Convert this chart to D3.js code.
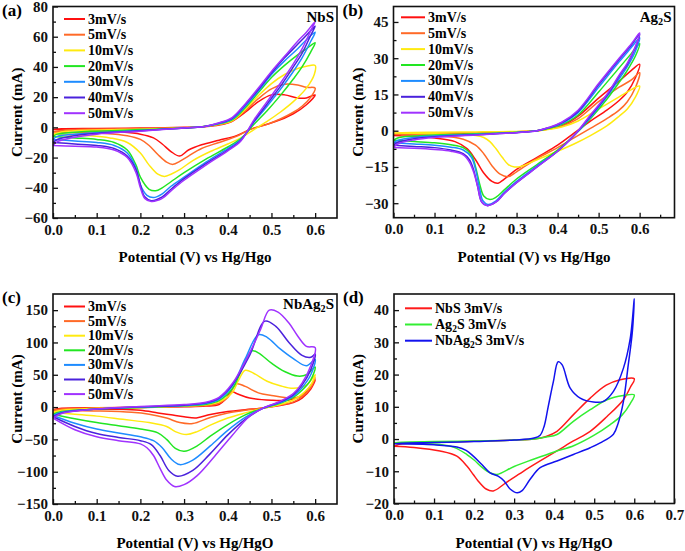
<!DOCTYPE html>
<html>
<head>
<meta charset="utf-8">
<script src="https://cdn.jsdelivr.net/npm/d3@7"></script>
<style>
  body { margin: 0; background: #fff; }
  svg { display: block; font-family: "Liberation Serif", "Times New Roman", serif; font-weight: bold; }
</style>
</head>
<body>
<svg width="685" height="551"></svg>
<script>
// scan rates used in panels a, b and c
var rates = ["3mV/s", "5mV/s", "10mV/s", "20mV/s", "30mV/s", "40mV/s", "50mV/s"];
var rateColors = ["#ff1010", "#ff6a28", "#ffea10", "#22e622", "#1e8cff", "#4a22dc", "#a032ff"];

// (a) NbS, each loop as [potential V, current mA], forward sweep then reverse
var nbs3 = [[0,-1.5],[0.02,-1],[0.1,-0.8],[0.2,-0.5],[0.3,0],[0.35,0.5],[0.38,1.5],[0.41,4],[0.44,10],[0.47,17],[0.5,21.5],[0.53,21.5],[0.56,19.5],[0.58,19.5],[0.6,21.5],
  [0.58,15],[0.55,9],[0.52,5],[0.49,2],[0.45,-1.5],[0.42,-5.5],[0.38,-8.5],[0.34,-11.5],[0.31,-15],[0.29,-19],[0.27,-16],[0.25,-11],[0.23,-7],[0.2,-4.5],[0.15,-3],[0.1,-2.3],[0.05,-2],[0,-1.5]];
var nbs5 = [[0,-3],[0.02,-2],[0.1,-1.2],[0.2,-0.8],[0.3,-0.2],[0.35,0.6],[0.38,1.8],[0.41,4],[0.44,11],[0.47,19],[0.5,25.5],[0.53,28.5],[0.56,28],[0.58,26.5],[0.6,26],
  [0.59,20],[0.57,14],[0.55,10],[0.52,5.5],[0.49,2],[0.45,-1.5],[0.42,-6],[0.38,-10],[0.34,-14],[0.31,-19],[0.29,-22.5],[0.275,-24.5],[0.26,-23],[0.24,-18],[0.22,-12],[0.2,-8],[0.17,-5.5],[0.12,-4],[0.05,-3.5],[0,-3]];
var nbs10 = [[0,-4.5],[0.02,-3],[0.1,-1.8],[0.2,-1.2],[0.3,-0.3],[0.35,0.7],[0.38,2],[0.41,4.5],[0.44,12],[0.47,21],[0.5,29],[0.53,35],[0.56,39],[0.58,40.5],[0.6,41],
  [0.598,35],[0.58,26],[0.55,17],[0.52,10],[0.49,4],[0.46,-1.5],[0.43,-7],[0.4,-11],[0.36,-16],[0.32,-22],[0.29,-28],[0.27,-31],[0.255,-32.5],[0.24,-31],[0.22,-25],[0.2,-17],[0.17,-10],[0.13,-7],[0.08,-5.5],[0,-4.5]];
var nbs20 = [[0,-6],[0.01,-4.5],[0.05,-3.2],[0.1,-2.5],[0.2,-1.5],[0.3,-0.4],[0.35,0.8],[0.38,2.3],[0.41,5],[0.44,13],[0.47,23],[0.5,33],[0.53,41],[0.56,48],[0.58,52],[0.6,56],
  [0.59,50],[0.57,40],[0.55,32],[0.52,21],[0.49,11],[0.46,2],[0.43,-7.5],[0.4,-13],[0.35,-21],[0.3,-30],[0.27,-36],[0.25,-40],[0.235,-42],[0.22,-41],[0.2,-33],[0.19,-25],[0.17,-15],[0.14,-10],[0.1,-8],[0.05,-7],[0,-6]];
var nbs30 = [[0,-8],[0.01,-6],[0.05,-4.5],[0.1,-3.5],[0.2,-2],[0.3,-0.5],[0.35,0.8],[0.38,2.5],[0.41,5.5],[0.44,14],[0.47,24],[0.5,35],[0.53,44],[0.56,52],[0.58,58],[0.6,63],
  [0.59,57],[0.57,46],[0.55,37],[0.52,25],[0.49,14],[0.46,3.5],[0.43,-8],[0.4,-14],[0.35,-23],[0.3,-33],[0.27,-39],[0.25,-44],[0.23,-46.5],[0.215,-45],[0.2,-38],[0.19,-27],[0.17,-17],[0.14,-12],[0.1,-10],[0.05,-9],[0,-8]];
var nbs40 = [[0,-10],[0.01,-8],[0.05,-5.5],[0.1,-4],[0.2,-2.3],[0.3,-0.5],[0.35,0.8],[0.38,2.8],[0.41,6],[0.44,15],[0.47,25],[0.5,36],[0.53,46],[0.56,55],[0.58,61],[0.6,67],
  [0.59,61],[0.57,49],[0.55,40],[0.52,27],[0.49,15.5],[0.46,4],[0.43,-8.5],[0.4,-15],[0.35,-24],[0.3,-34],[0.27,-41],[0.25,-46],[0.225,-48.5],[0.21,-46],[0.2,-38],[0.19,-28],[0.17,-19],[0.14,-14],[0.1,-12],[0.05,-11],[0,-10]];
var nbs50 = [[0,-12],[0.01,-9.5],[0.05,-6.5],[0.1,-4.5],[0.2,-2.5],[0.3,-0.5],[0.35,0.8],[0.38,3],[0.41,6.5],[0.44,15.5],[0.47,26],[0.5,37],[0.53,47],[0.56,57],[0.58,63],[0.6,70],
  [0.59,64],[0.57,52],[0.55,42],[0.52,29],[0.49,17],[0.46,5],[0.43,-9],[0.4,-15.5],[0.35,-25],[0.3,-35],[0.27,-42],[0.25,-47],[0.225,-49],[0.21,-47],[0.2,-40],[0.19,-30],[0.17,-20],[0.14,-15],[0.1,-13],[0.05,-12.5],[0,-12]];

// (b) Ag2S
var ag3 = [[0,-2],[0.02,-1.5],[0.1,-1.2],[0.2,-1],[0.3,-0.5],[0.35,0],[0.38,0.8],[0.41,2],[0.45,6],[0.5,13.5],[0.55,20.5],[0.58,25],[0.6,27.5],
  [0.59,22],[0.57,16],[0.55,12.5],[0.52,8.5],[0.48,4],[0.44,-1],[0.4,-6],[0.35,-11],[0.3,-16],[0.27,-20],[0.255,-21.7],[0.24,-21],[0.22,-17.5],[0.2,-12],[0.18,-7.5],[0.15,-4.5],[0.1,-3],[0.05,-2.3],[0,-2]];
var ag5 = [[0,-1.5],[0.02,-1.2],[0.1,-1],[0.2,-0.8],[0.3,-0.4],[0.35,0],[0.38,0.8],[0.41,1.8],[0.45,5],[0.5,12],[0.55,18],[0.58,21],[0.6,24],
  [0.59,18],[0.57,12],[0.55,8.5],[0.52,5],[0.48,1],[0.44,-3],[0.4,-7],[0.35,-11.5],[0.3,-17],[0.28,-19],[0.26,-18],[0.24,-14.5],[0.22,-9.5],[0.2,-6],[0.17,-3.5],[0.1,-2],[0.05,-1.7],[0,-1.5]];
var ag10 = [[0,-1],[0.02,-0.8],[0.1,-0.6],[0.2,-0.5],[0.3,-0.3],[0.35,0],[0.38,0.6],[0.41,1.5],[0.45,4],[0.5,9],[0.55,14],[0.58,17],[0.6,18.5],
  [0.59,14],[0.57,9],[0.55,6],[0.52,2],[0.48,-2],[0.44,-5.5],[0.4,-8.5],[0.35,-12],[0.31,-14.8],[0.295,-15],[0.28,-14],[0.265,-11],[0.25,-7.5],[0.235,-4.5],[0.22,-2.8],[0.2,-2],[0.1,-1.3],[0,-1]];
var ag20 = [[0,-4],[0.01,-3],[0.05,-2.2],[0.1,-1.8],[0.2,-1.3],[0.3,-0.6],[0.35,0],[0.38,1],[0.41,2.5],[0.45,6.5],[0.5,16],[0.55,26],[0.58,32],[0.6,36],
  [0.59,31],[0.57,25],[0.55,20],[0.52,13],[0.48,5],[0.44,-2],[0.4,-8],[0.35,-14],[0.3,-20],[0.27,-24.5],[0.25,-27.5],[0.235,-28.5],[0.22,-27],[0.21,-22],[0.2,-15],[0.19,-10],[0.17,-7],[0.14,-5.8],[0.1,-5],[0.05,-4.5],[0,-4]];
var ag30 = [[0,-5],[0.01,-4],[0.05,-2.8],[0.1,-2.2],[0.2,-1.5],[0.3,-0.7],[0.35,0],[0.38,1.2],[0.41,3],[0.45,7.5],[0.5,18],[0.55,28.5],[0.58,34.5],[0.6,38.5],
  [0.59,33],[0.57,26.5],[0.55,21.5],[0.52,14],[0.48,5.5],[0.44,-2],[0.4,-8.5],[0.35,-14.5],[0.3,-21],[0.27,-25.5],[0.25,-29],[0.23,-30.5],[0.218,-29],[0.21,-24],[0.2,-16],[0.19,-11],[0.17,-8],[0.14,-6.8],[0.1,-6],[0.05,-5.5],[0,-5]];
var ag40 = [[0,-6],[0.01,-4.8],[0.05,-3.3],[0.1,-2.5],[0.2,-1.7],[0.3,-0.8],[0.35,0],[0.38,1.3],[0.41,3.3],[0.45,8],[0.5,19],[0.55,29.5],[0.58,35.5],[0.6,40],
  [0.59,34.5],[0.57,27.5],[0.55,22.5],[0.52,14.5],[0.48,6],[0.44,-2],[0.4,-8.5],[0.35,-15],[0.3,-21.5],[0.27,-26],[0.25,-29.5],[0.228,-31],[0.215,-29.5],[0.205,-23],[0.195,-16],[0.185,-12],[0.17,-9.5],[0.14,-8],[0.1,-7],[0.05,-6.5],[0,-6]];
var ag50 = [[0,-7],[0.01,-5.5],[0.05,-3.8],[0.1,-2.8],[0.2,-1.8],[0.3,-0.8],[0.35,0],[0.38,1.4],[0.41,3.5],[0.45,8.5],[0.5,19.5],[0.55,30],[0.58,36],[0.6,40.5],
  [0.59,35],[0.57,28],[0.55,23],[0.52,15],[0.48,6.5],[0.44,-2],[0.4,-8.5],[0.35,-15],[0.3,-21.5],[0.27,-26],[0.25,-29.5],[0.228,-31],[0.215,-29.5],[0.205,-23],[0.195,-17],[0.185,-13],[0.17,-10],[0.14,-8.5],[0.1,-7.8],[0.05,-7.3],[0,-7]];

// (c) NbAg2S
var nbag3 = [[0,-4],[0.02,-2],[0.1,-1],[0.2,-0.5],[0.3,0.5],[0.35,1.5],[0.38,4],[0.395,12],[0.408,24],[0.42,21],[0.45,14],[0.5,10.5],[0.54,11],[0.57,18],[0.6,42],
  [0.59,28],[0.57,14],[0.55,7],[0.52,2.5],[0.48,-1.5],[0.44,-4],[0.4,-7],[0.36,-11.5],[0.328,-16.8],[0.3,-15],[0.27,-12],[0.24,-9],[0.2,-5],[0.15,-3.5],[0.1,-3.5],[0.05,-3.8],[0,-4]];
var nbag5 = [[0,-5],[0.02,-3],[0.1,-1.5],[0.2,-0.5],[0.3,1],[0.35,2.5],[0.38,6],[0.4,15],[0.42,36],[0.44,32],[0.47,22],[0.5,18],[0.55,14],[0.58,22],[0.6,45],
  [0.59,30],[0.57,16],[0.55,8],[0.52,3],[0.48,-1.5],[0.44,-5],[0.4,-9],[0.36,-16],[0.32,-25.5],[0.29,-24],[0.26,-17],[0.22,-11],[0.18,-8],[0.1,-6],[0.05,-5.5],[0,-5]];
var nbag10 = [[0,-8],[0.02,-5],[0.1,-2],[0.2,-0.5],[0.3,1.5],[0.35,3.5],[0.38,8],[0.41,22],[0.425,42],[0.44,57],[0.46,52],[0.49,40],[0.52,33],[0.55,29],[0.58,34],[0.6,50],
  [0.59,34],[0.57,20],[0.55,11],[0.52,4],[0.48,-2],[0.44,-9],[0.4,-17],[0.36,-28],[0.33,-38],[0.305,-42.5],[0.28,-38],[0.26,-30],[0.22,-24],[0.16,-19],[0.1,-14],[0.05,-11],[0,-8]];
var nbag20 = [[0,-11],[0.02,-7],[0.1,-3],[0.2,-0.5],[0.3,2],[0.35,4.5],[0.38,10],[0.41,28],[0.43,55],[0.455,87],[0.47,84],[0.5,68],[0.53,55],[0.56,48],[0.58,50],[0.6,62],
  [0.59,42],[0.57,26],[0.55,15],[0.52,6],[0.48,-2],[0.44,-12],[0.4,-27],[0.36,-45],[0.33,-60],[0.3,-68.5],[0.28,-64],[0.26,-50],[0.24,-40],[0.2,-34],[0.15,-29],[0.1,-24],[0.05,-18],[0,-11]];
var nbag30 = [[0,-13],[0.02,-8],[0.1,-3],[0.2,0],[0.3,2.5],[0.35,5.5],[0.38,12],[0.41,32],[0.44,75],[0.47,112],[0.49,108],[0.52,90],[0.55,75],[0.58,64],[0.6,74],
  [0.59,50],[0.57,30],[0.55,17],[0.52,7],[0.48,-2],[0.44,-16],[0.4,-36],[0.36,-60],[0.32,-82],[0.29,-89],[0.27,-80],[0.25,-63],[0.23,-52],[0.2,-46],[0.15,-40],[0.1,-34],[0.05,-25],[0,-13]];
var nbag40 = [[0,-15],[0.02,-9],[0.1,-3],[0.2,0.5],[0.3,3],[0.35,6.5],[0.38,14],[0.41,34],[0.45,80],[0.485,133],[0.51,125],[0.54,100],[0.57,80],[0.59,77],[0.6,82],
  [0.59,58],[0.57,34],[0.55,19],[0.52,8],[0.48,-2],[0.44,-19],[0.4,-43],[0.36,-72],[0.32,-98],[0.285,-107],[0.265,-98],[0.245,-75],[0.225,-58],[0.2,-52],[0.15,-47],[0.1,-41],[0.05,-30],[0,-15]];
var nbag50 = [[0,-17],[0.02,-10],[0.1,-3],[0.2,1],[0.3,4],[0.35,7.5],[0.38,15],[0.41,36],[0.45,84],[0.475,120],[0.495,150],[0.515,147],[0.54,130],[0.56,110],[0.58,94],[0.6,92],
  [0.59,64],[0.57,37],[0.55,21],[0.52,9],[0.48,-2],[0.45,-14],[0.41,-44],[0.37,-76],[0.33,-106],[0.3,-120],[0.278,-123],[0.26,-113],[0.245,-95],[0.23,-75],[0.215,-63],[0.2,-57],[0.15,-52],[0.1,-46],[0.05,-35],[0,-17]];

// (d) comparison at 3 mV/s
var compNames = ["NbS 3mV/s", "Ag2S 3mV/s", "NbAg2S 3mV/s"];
var compColors = ["#ff1a1a", "#33ee33", "#1212ee"];
var compNbs = [[0,-2.2],[0.02,-1.5],[0.1,-1],[0.2,-0.7],[0.3,-0.3],[0.35,0],[0.38,0.8],[0.407,2.4],[0.45,7.8],[0.49,12.7],[0.53,16.7],[0.565,18.4],[0.6,18.7],
  [0.59,16],[0.573,12.2],[0.532,7],[0.49,2.4],[0.448,-0.6],[0.407,-3.7],[0.365,-6.8],[0.323,-10],[0.28,-13.5],[0.248,-16.1],[0.23,-15.5],[0.21,-13],[0.198,-11],[0.182,-8.4],[0.157,-5.3],[0.115,-3.7],[0.05,-2.6],[0,-2.2]];
var compAg = [[0,-1.2],[0.02,-1],[0.1,-0.8],[0.2,-0.6],[0.3,-0.3],[0.35,0],[0.38,0.6],[0.407,1.4],[0.448,5.5],[0.49,9.1],[0.532,12.2],[0.573,13.5],[0.6,13.7],
  [0.59,11],[0.57,7.5],[0.54,4.5],[0.5,1.2],[0.45,-2],[0.4,-4],[0.35,-6.2],[0.3,-8.5],[0.257,-11],[0.24,-10.5],[0.22,-8.8],[0.2,-6.5],[0.182,-4.8],[0.15,-2.6],[0.115,-1.7],[0.05,-1.3],[0,-1.2]];
var compNbag = [[0,-1.5],[0.02,-1.3],[0.1,-1.1],[0.2,-0.8],[0.3,-0.3],[0.35,0.3],[0.365,1.2],[0.375,4],[0.385,10],[0.398,17.8],[0.41,24],[0.42,23],[0.44,15.8],[0.465,12.7],[0.498,11.5],[0.523,11.7],[0.548,14.8],[0.573,22],[0.59,31.2],[0.6,43.5],
  [0.595,33],[0.585,23],[0.573,11.7],[0.56,5],[0.548,1.5],[0.515,-1.2],[0.49,-2.7],[0.448,-4.8],[0.407,-6.8],[0.365,-8.9],[0.34,-12.5],[0.32,-16],[0.308,-16.7],[0.29,-15.5],[0.275,-13],[0.26,-11.5],[0.24,-10.5],[0.22,-8],[0.198,-5.3],[0.18,-3.5],[0.157,-2.5],[0.1,-1.8],[0,-1.5]];

// tick values
var xTicks6 = [0, 0.1, 0.2, 0.3, 0.4, 0.5, 0.6];
var xTicks7 = [0, 0.1, 0.2, 0.3, 0.4, 0.5, 0.6, 0.7];
var yTicksA = [-60, -40, -20, 0, 20, 40, 60, 80];
var yTicksB = [-30, -15, 0, 15, 30, 45];
var yTicksC = [-150, -100, -50, 0, 50, 100, 150];
var yTicksD = [-20, -10, 0, 10, 20, 30, 40];

var svg = d3.select("svg");

// writes a label, putting the 2 of "Ag2S" as a subscript
function subText(sel, str, size) {
  var m = str.match(/^(.*?Ag)2(.*)$/);
  if (!m) { sel.text(str); return; }
  sel.append("tspan").text(m[1]);
  sel.append("tspan").attr("font-size", size * 0.68).attr("dy", 3).text("2");
  sel.append("tspan").attr("dy", -3).text(m[2]);
}

function drawPanel(p) {
  var x = d3.scaleLinear().domain(p.xDomain).range([p.left, p.right]);
  var y = d3.scaleLinear().domain(p.yDomain).range([p.bottom, p.top]);
  var g = svg.append("g");

  var line = d3.line()
    .x(function(d) { return x(d[0]); })
    .y(function(d) { return y(d[1]); })
    .curve(d3.curveCatmullRom.alpha(0.5));

  p.curves.forEach(function(c, i) {
    g.append("path")
      .attr("d", line(c))
      .attr("fill", "none")
      .attr("stroke", p.colors[i])
      .attr("stroke-width", 1.5)
      .attr("stroke-linejoin", "round");
  });

  // minor ticks (no labels)
  var xMinor = d3.range(p.xDomain[0] + 0.05, p.xDomain[1] - 0.01, 0.1);
  g.append("g")
    .attr("transform", "translate(0," + p.bottom + ")")
    .call(d3.axisBottom(x).tickValues(xMinor).tickSize(-3).tickFormat(""));
  var yMinor = d3.range(p.yTicks[0] + p.yStep / 2, p.yDomain[1], p.yStep);
  g.append("g")
    .attr("transform", "translate(" + p.left + ",0)")
    .call(d3.axisLeft(y).tickValues(yMinor).tickSize(-3).tickFormat(""));

  // major ticks
  g.append("g")
    .attr("class", "ax")
    .attr("transform", "translate(0," + p.bottom + ")")
    .call(d3.axisBottom(x).tickValues(p.xTicks).tickSize(-5).tickPadding(6).tickFormat(d3.format(".1f")));
  g.append("g")
    .attr("class", "ax")
    .attr("transform", "translate(" + p.left + ",0)")
    .call(d3.axisLeft(y).tickValues(p.yTicks).tickSize(-5).tickPadding(5).tickFormat(d3.format("d")));

  g.selectAll(".domain").remove();
  g.selectAll(".tick line").attr("stroke", "#111").attr("stroke-width", 1.3);
  g.selectAll(".ax text")
    .attr("font-family", "Liberation Serif, Times New Roman, serif")
    .attr("font-weight", "bold")
    .attr("font-size", 15)
    .attr("fill", "#111");

  // frame
  g.append("rect")
    .attr("x", p.left).attr("y", p.top)
    .attr("width", p.right - p.left).attr("height", p.bottom - p.top)
    .attr("fill", "none").attr("stroke", "#111").attr("stroke-width", 1.6);

  // axis titles
  g.append("text")
    .attr("x", (p.left + p.right) / 2).attr("y", p.bottom + 44)
    .attr("text-anchor", "middle").attr("font-size", 15)
    .text(p.xTitle);
  g.append("text")
    .attr("transform", "translate(" + (p.left - 31) + "," + ((p.top + p.bottom) / 2) + ") rotate(-90)")
    .attr("text-anchor", "middle").attr("font-size", 15)
    .text("Current (mA)");

  // panel letter and sample name
  g.append("text").attr("x", p.left - 51).attr("y", p.top + 9)
    .attr("font-size", 17).text(p.letter);
  if (p.sample) {
    var s = g.append("text").attr("x", p.right - 3).attr("y", p.top + 15)
      .attr("text-anchor", "end").attr("font-size", 15);
    subText(s, p.sample, 15);
  }

  // legend
  p.names.forEach(function(n, i) {
    var ly = p.legY + i * p.legStep;
    g.append("line")
      .attr("x1", p.legX).attr("x2", p.legX + p.legLen)
      .attr("y1", ly).attr("y2", ly)
      .attr("stroke", p.colors[i]).attr("stroke-width", 2);
    var t = g.append("text")
      .attr("x", p.legX + p.legLen + 3).attr("y", ly + 4.5)
      .attr("font-size", 14);
    subText(t, n, 14);
  });
}

drawPanel({
  letter: "(a)", sample: "NbS", left: 53, right: 337, top: 6.5, bottom: 218,
  xDomain: [0, 0.65], yDomain: [-60, 80], xTicks: xTicks6, yTicks: yTicksA, yStep: 20,
  xTitle: "Potential (V) vs Hg/Hgo",
  curves: [nbs3, nbs5, nbs10, nbs20, nbs30, nbs40, nbs50], colors: rateColors, names: rates,
  legX: 64, legLen: 21, legY: 19, legStep: 15.7
});
drawPanel({
  letter: "(b)", sample: "Ag2S", left: 393.5, right: 674.5, top: 6.5, bottom: 217.7,
  xDomain: [0, 0.685], yDomain: [-36, 51.4], xTicks: xTicks6, yTicks: yTicksB, yStep: 15,
  xTitle: "Potential (V) vs Hg/Hgo",
  curves: [ag3, ag5, ag10, ag20, ag30, ag40, ag50], colors: rateColors, names: rates,
  legX: 401, legLen: 24, legY: 17.3, legStep: 15.9
});
drawPanel({
  letter: "(c)", sample: "NbAg2S", left: 53, right: 337, top: 294, bottom: 504,
  xDomain: [0, 0.65], yDomain: [-150, 175], xTicks: xTicks6, yTicks: yTicksC, yStep: 50,
  xTitle: "Potential (V) vs Hg/HgO",
  curves: [nbag3, nbag5, nbag10, nbag20, nbag30, nbag40, nbag50], colors: rateColors, names: rates,
  legX: 64, legLen: 21, legY: 306.5, legStep: 14.6
});
drawPanel({
  letter: "(d)", sample: null, left: 394, right: 674.3, top: 294, bottom: 503.5,
  xDomain: [0, 0.7], yDomain: [-20, 45], xTicks: xTicks7, yTicks: yTicksD, yStep: 10,
  xTitle: "Potential (V) vs Hg/HgO",
  curves: [compNbs, compAg, compNbag], colors: compColors, names: compNames,
  legX: 405, legLen: 27, legY: 308.3, legStep: 16.2
});
</script>
</body>
</html>
